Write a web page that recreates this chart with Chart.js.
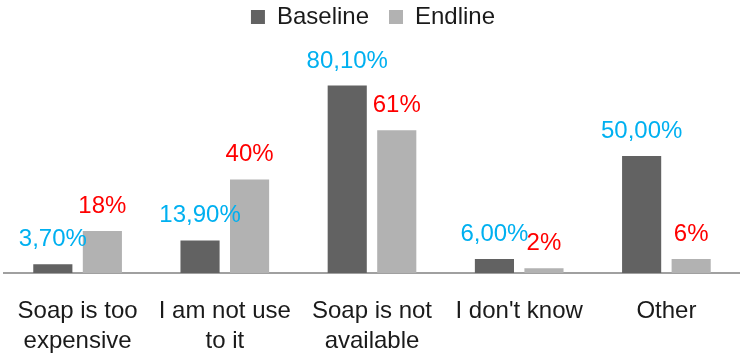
<!DOCTYPE html>
<html>
<head>
<meta charset="utf-8">
<script src="https://cdn.jsdelivr.net/npm/chart.js@4/dist/chart.umd.min.js"></script>
<style>
  html, body { margin: 0; padding: 0; background: #ffffff; }
  #wrap { width: 740px; height: 356px; position: relative; }
</style>
</head>
<body>
<div id="wrap"><canvas id="c"></canvas></div>
<script>
// Reasons for not using soap, baseline vs endline survey (% of respondents)
const categories = [
  ['Soap is too', 'expensive'],
  ['I am not use', 'to it'],
  ['Soap is not', 'available'],
  ["I don't know"],
  ['Other']
];
const baselineValues = [3.7, 13.9, 80.1, 6.0, 50.0];
const endlineValues = [18, 40, 61, 2, 6];
const baselineLabels = ['3,70%', '13,90%', '80,10%', '6,00%', '50,00%'];
const endlineLabels = ['18%', '40%', '61%', '2%', '6%'];

const FONT = '"Liberation Sans", Arial, sans-serif';
const TEXT_SIZE = 24;

// Value labels written above each bar
const valueLabels = {
  id: 'valueLabels',
  afterDatasetsDraw(chart) {
    const ctx = chart.ctx;
    const texts = [baselineLabels, endlineLabels];
    const colors = ['#00b0f0', '#ff0000'];
    ctx.save();
    ctx.font = TEXT_SIZE + 'px ' + FONT;
    ctx.textAlign = 'center';
    ctx.textBaseline = 'alphabetic';
    chart.data.datasets.forEach((ds, di) => {
      chart.getDatasetMeta(di).data.forEach((bar, i) => {
        ctx.fillStyle = colors[di];
        ctx.fillText(texts[di][i], bar.x, bar.y - 18);
      });
    });
    ctx.restore();
  }
};

new Chart(document.getElementById('c'), {
  type: 'bar',
  data: {
    labels: categories,
    datasets: [
      {
        label: 'Baseline',
        data: baselineValues,
        backgroundColor: '#626262',
        categoryPercentage: 0.673,
        barPercentage: 0.79
      },
      {
        label: 'Endline',
        data: endlineValues,
        backgroundColor: '#b2b2b2',
        categoryPercentage: 0.673,
        barPercentage: 0.79
      }
    ]
  },
  options: {
    responsive: true,
    maintainAspectRatio: false,
    animation: false,
    layout: { padding: { left: 4, right: -2, top: -15, bottom: -23 } },
    plugins: {
      legend: {
        position: 'top',
        labels: {
          color: '#1a1a1a',
          font: { family: FONT, size: TEXT_SIZE },
          boxWidth: 14,
          boxHeight: 14,
          padding: 20
        }
      },
      tooltip: { enabled: false }
    },
    scales: {
      x: {
        grid: { display: false, drawTicks: false },
        border: { display: true, color: '#a0a0a0', width: 2 },
        ticks: {
          color: '#1a1a1a',
          font: { family: FONT, size: TEXT_SIZE, lineHeight: 1.25 },
          padding: 23,
          maxRotation: 0,
          autoSkip: false
        },
        // category labels sit well inside their bands; no extra side padding
        afterFit(scale) {
          scale.paddingLeft = 0;
          scale.paddingRight = 0;
        }
      },
      y: {
        display: false,
        min: 0,
        max: 100
      }
    }
  },
  plugins: [valueLabels]
});
</script>
</body>
</html>
